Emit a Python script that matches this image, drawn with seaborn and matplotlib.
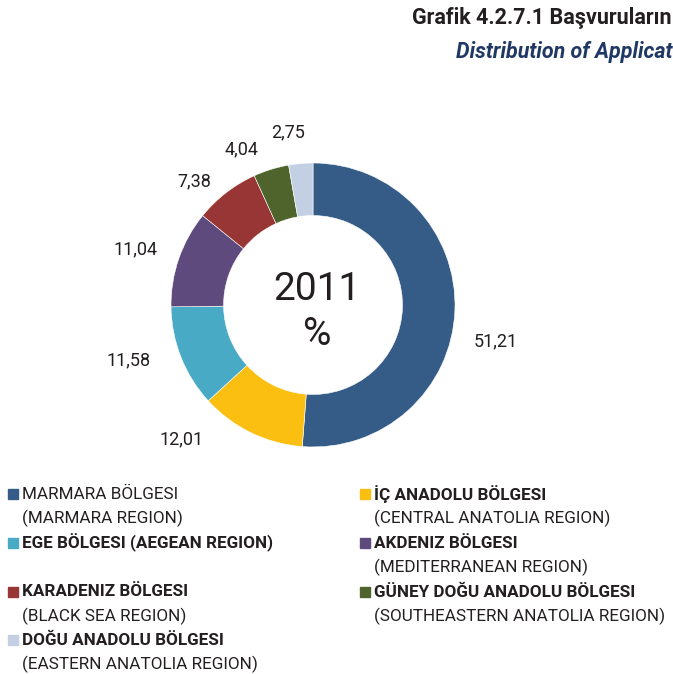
import matplotlib
matplotlib.use("Agg")
import matplotlib.pyplot as plt
import seaborn as sns

# Data
regions_tr = ["MARMARA BÖLGESI", "İÇ ANADOLU BÖLGESI", "EGE BÖLGESI", "AKDENIZ BÖLGESI",
              "KARADENIZ BÖLGESI", "GÜNEY DOĞU ANADOLU BÖLGESI", "DOĞU ANADOLU BÖLGESI"]
regions_en = ["(MARMARA REGION)", "(CENTRAL ANATOLIA REGION)", "(AEGEAN REGION)",
              "(MEDITERRANEAN REGION)", "(BLACK SEA REGION)",
              "(SOUTHEASTERN ANATOLIA REGION)", "(EASTERN ANATOLIA REGION)"]
shares = [51.21, 12.01, 11.58, 11.04, 7.38, 4.04, 2.75]
colors = ["#355C87", "#FBBF11", "#48AAC4", "#5E4A7C", "#973634", "#4F632C", "#C3CFE2"]

# label nudges (pixels, right/down) to mimic the source's best-fit placement
nudges = [(3, 30), (-53, -28), (-17, -11), (-7, 3), (-8, 19), (-18, 17), (-9, 7)]

sns.set_theme(style="white")
fam = ["Liberation Sans Narrow", "Roboto", "DejaVu Sans"]
plt.rcParams["font.family"] = fam
txt = "#231F20"

fig = plt.figure(figsize=(6.73, 6.74), dpi=100)
ax = fig.add_axes([0.1486, 0.2315, 0.633, 0.632])

labels = [f"{v:.2f}".replace(".", ",") for v in shares]
wedges, texts = ax.pie(shares, colors=colors, startangle=90, counterclock=False,
                       labels=labels, labeldistance=1.27,
                       wedgeprops=dict(width=0.37, edgecolor="white", linewidth=0.4),
                       textprops=dict(fontsize=13, color=txt))
for t, (dx, dy) in zip(texts, nudges):
    x, y = t.get_position()
    t.set_visible(False)
    ax.annotate(t.get_text(), (x, y), xytext=(dx * 0.72, -dy * 0.72),
                textcoords="offset points", ha="center", va="center",
                fontsize=13, color=txt)
ax.set_xlim(-1.5, 1.5)
ax.set_ylim(-1.5, 1.5)
ax.set_aspect("equal")
ax.axis("off")

ax.text(0.03, 0.11, "2011", ha="center", va="center", fontsize=28, color=txt)
ax.text(0.03, -0.21, "%", ha="center", va="center", fontsize=28, color=txt)

# Title (the source is cropped at the right edge)
fig.text(672 / 673, 1 - 18 / 674, "Grafik 4.2.7.1 Başvuruların",
         ha="right", va="center", fontsize=15.5, fontweight="bold", color=txt)
fig.text(672 / 673, 1 - 52 / 674, "Distribution of Applicat",
         ha="right", va="center", fontsize=15.5, fontweight="bold", fontstyle="italic",
         color="#1F3864")

# Legend
W, H = 673, 674
slots = [(8, 494), (360, 494), (8, 543), (360, 543), (8, 592), (360, 592), (8, 640)]
line_gap = 24.5
for i, (x, y) in enumerate(slots):
    fig.patches.append(plt.Rectangle((x / W, 1 - (y + 5) / H), 10 / W, 10 / H,
                                     transform=fig.transFigure, color=colors[i]))
    weight = "normal" if i == 0 else "bold"
    if i == 2:
        fig.text((x + 14) / W, 1 - y / H, regions_tr[i] + " " + regions_en[i],
                 ha="left", va="center", fontsize=12.3, fontweight=weight, color=txt)
    else:
        fig.text((x + 14) / W, 1 - y / H, regions_tr[i], ha="left", va="center",
                 fontsize=12.3, fontweight=weight, color=txt)
        fig.text((x + 14) / W, 1 - (y + line_gap) / H, regions_en[i], ha="left",
                 va="center", fontsize=12.3, color=txt)

fig.savefig("out.png", dpi=100, facecolor="white")
